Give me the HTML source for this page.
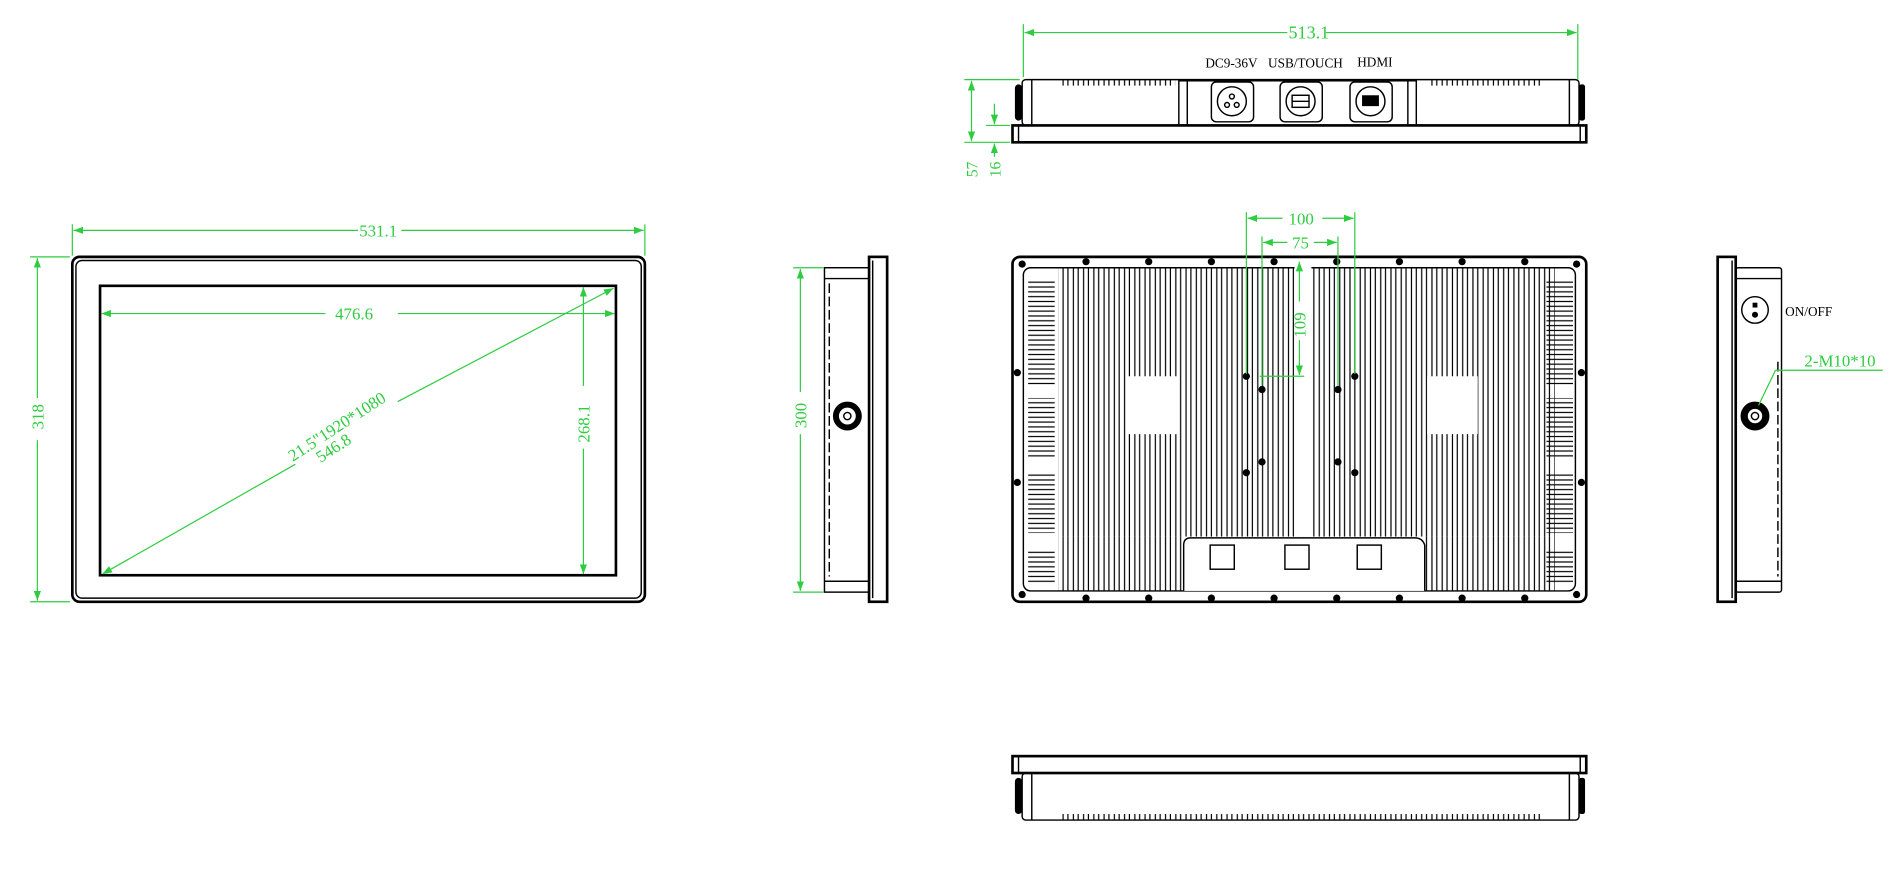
<!DOCTYPE html>
<html><head><meta charset="utf-8"><style>
html,body{margin:0;padding:0;background:#fff;width:1890px;height:890px;overflow:hidden}
svg{display:block}
text{font-family:"Liberation Serif",serif}
.g{fill:#2ecc40}
.gl{stroke:#2ecc40;stroke-width:1;fill:none}
.k{stroke:#000;fill:none;stroke-width:1.2}
.kt{stroke:#000;fill:none;stroke-width:2.2}
</style></head><body>
<svg width="1890" height="890" viewBox="0 0 1568 738" preserveAspectRatio="none" xmlns="http://www.w3.org/2000/svg">
<defs>
<marker id="a" markerWidth="8" markerHeight="6" refX="8" refY="3" orient="auto-start-reverse" markerUnits="userSpaceOnUse"><path d="M0,0 L8,3 L0,6z" fill="#2ecc40"/></marker>
<pattern id="fin" x="880" y="0" width="8.5" height="10" patternUnits="userSpaceOnUse"><line x1="2" y1="0" x2="2" y2="10" stroke="#000" stroke-width="1"/><line x1="6" y1="0" x2="6" y2="10" stroke="#000" stroke-width="1"/></pattern>
<pattern id="hfin" x="0" y="0" width="10" height="8" patternUnits="userSpaceOnUse"><line x1="0" y1="2" x2="10" y2="2" stroke="#000" stroke-width="1"/><line x1="0" y1="6" x2="10" y2="6" stroke="#000" stroke-width="1"/></pattern>
</defs>

<!-- FRONT VIEW -->
<rect x="60" y="213" width="475" height="286" rx="6" class="kt"/>
<rect x="63" y="216" width="469" height="280" rx="5" class="k" stroke-width="0.8"/>
<rect x="83" y="237" width="428" height="240" class="kt" stroke-width="1.6"/>
<g class="gl">
<line x1="60" y1="186" x2="60" y2="212"/><line x1="535" y1="186" x2="535" y2="212"/>
<line x1="61" y1="191" x2="297" y2="191" marker-start="url(#a)"/><line x1="333" y1="191" x2="534" y2="191" marker-end="url(#a)"/>
<line x1="25" y1="213" x2="58" y2="213"/><line x1="25" y1="499" x2="58" y2="499"/>
<line x1="31" y1="214" x2="31" y2="330" marker-start="url(#a)"/><line x1="31" y1="365" x2="31" y2="498" marker-end="url(#a)"/>
<line x1="84" y1="260" x2="270" y2="260" marker-start="url(#a)"/><line x1="330" y1="260" x2="510" y2="260" marker-end="url(#a)"/>
<line x1="484" y1="238" x2="484" y2="320" marker-start="url(#a)"/><line x1="484" y1="372" x2="484" y2="476" marker-end="url(#a)"/>
<line x1="85" y1="476" x2="245" y2="385" marker-start="url(#a)"/><line x1="330" y1="333" x2="509" y2="239" marker-end="url(#a)"/>
</g>
<text x="298" y="196" class="g" font-size="14">531.1</text>
<text x="278" y="265" class="g" font-size="14">476.6</text>
<text transform="translate(36,356) rotate(-90)" class="g" font-size="14">318</text>
<text transform="translate(489,367) rotate(-90)" class="g" font-size="14">268.1</text>
<text transform="translate(243,383) rotate(-33)" class="g" font-size="14">21.5"1920*1080</text>
<text transform="translate(266,384) rotate(-33)" class="g" font-size="14">546.8</text>

<!-- LEFT SIDE VIEW -->
<rect x="721" y="213" width="15" height="286" class="kt" stroke-width="1.6"/>
<line x1="724" y1="216" x2="724" y2="496" class="k"/>
<rect x="684" y="222" width="37" height="269" class="k" stroke-width="1.5"/>
<line x1="684" y1="231" x2="721" y2="231" class="k"/><line x1="684" y1="482" x2="721" y2="482" class="k"/>
<line x1="688" y1="235" x2="688" y2="478" class="k" stroke-dasharray="8,3"/>
<circle cx="703" cy="345" r="12" fill="#000"/><circle cx="703" cy="345" r="7" fill="#fff"/><circle cx="703" cy="345" r="3" class="k"/>
<g class="gl">
<line x1="658" y1="222" x2="683" y2="222"/><line x1="658" y1="491" x2="683" y2="491"/>
<line x1="664" y1="223" x2="664" y2="325" marker-start="url(#a)"/><line x1="664" y1="360" x2="664" y2="490" marker-end="url(#a)"/>
</g>
<text transform="translate(669,355) rotate(-90)" class="g" font-size="14">300</text>

<!-- TOP VIEW -->
<rect x="848" y="66" width="462" height="38" rx="3" class="k" stroke-width="1.5"/>
<rect x="840" y="104" width="476" height="14" class="kt" stroke-width="1.6"/>
<line x1="845" y1="104" x2="845" y2="118" class="k"/><line x1="1311" y1="104" x2="1311" y2="118" class="k"/>
<rect x="842" y="70" width="6" height="30" rx="3" fill="#000"/><rect x="1310" y="70" width="5" height="30" rx="2" fill="#000"/>
<line x1="856" y1="66" x2="856" y2="104" class="k"/><line x1="1302" y1="66" x2="1302" y2="104" class="k"/>
<rect x="880" y="66" width="95" height="5" fill="url(#fin)"/><rect x="1185" y="66" width="95" height="5" fill="url(#fin)"/>
<rect x="978" y="67" width="197" height="37" class="k"/>
<line x1="985" y1="67" x2="985" y2="104" class="k"/><line x1="1168" y1="67" x2="1168" y2="104" class="k"/>
<g class="k" stroke-width="1.6">
<rect x="1005" y="68" width="35" height="33" rx="4"/><circle cx="1022" cy="84" r="12"/>
<rect x="1062" y="68" width="35" height="33" rx="4"/><circle cx="1079" cy="84" r="12"/>
<rect x="1120" y="68" width="35" height="33" rx="4"/><circle cx="1137" cy="84" r="12"/>
</g>
<circle cx="1022" cy="80" r="2" class="k"/><circle cx="1018" cy="87" r="2" class="k"/><circle cx="1026" cy="87" r="2" class="k"/>
<rect x="1072" y="79" width="14" height="10" class="k"/><line x1="1072" y1="84" x2="1086" y2="84" class="k"/>
<rect x="1130" y="79" width="14" height="9" fill="#000"/>
<text x="1000" y="56" font-size="11">DC9-36V</text>
<text x="1052" y="56" font-size="11">USB/TOUCH</text>
<text x="1126" y="55" font-size="11">HDMI</text>
<g class="gl">
<line x1="849" y1="20" x2="849" y2="64"/><line x1="1309" y1="20" x2="1309" y2="66"/>
<line x1="850" y1="27" x2="1068" y2="27" marker-start="url(#a)"/><line x1="1100" y1="27" x2="1308" y2="27" marker-end="url(#a)"/>
<line x1="800" y1="66" x2="846" y2="66"/><line x1="800" y1="118" x2="838" y2="118"/><line x1="818" y1="104" x2="838" y2="104"/>
<line x1="806" y1="67" x2="806" y2="117" marker-start="url(#a)" marker-end="url(#a)"/>
<line x1="825" y1="86" x2="825" y2="103" marker-end="url(#a)"/><line x1="825" y1="130" x2="825" y2="119" marker-end="url(#a)"/>
</g>
<text x="1069" y="32" class="g" font-size="15">513.1</text>
<text transform="translate(811,147) rotate(-90)" class="g" font-size="13">57</text>
<text transform="translate(830,147) rotate(-90)" class="g" font-size="13">16</text>

<!-- BACK VIEW -->
<rect x="840" y="213" width="476" height="286" rx="6" class="kt"/>
<rect x="849" y="222" width="458" height="268" rx="6" class="k"/>
<rect x="878" y="222" width="412" height="223" fill="url(#fin)"/>
<rect x="878" y="445" width="104" height="45" fill="url(#fin)"/>
<rect x="1182" y="445" width="108" height="45" fill="url(#fin)"/>
<rect x="936" y="312" width="42" height="48" fill="#fff"/>
<rect x="1184" y="312" width="42" height="48" fill="#fff"/>
<rect x="1074" y="216" width="14" height="229" fill="#fff"/>
<rect x="982" y="445" width="200" height="45" fill="#fff"/>
<path d="M982,490 V452 Q982,446 988,446 H1174 Q1180,446 1182,452 V490" class="k" stroke-width="1.5"/>
<rect x="1004" y="452" width="20" height="20" class="k"/><rect x="1066" y="452" width="20" height="20" class="k"/><rect x="1126" y="452" width="20" height="20" class="k"/>
<rect x="853" y="232" width="22" height="88" fill="url(#hfin)"/><rect x="853" y="330" width="22" height="50" fill="url(#hfin)"/>
<rect x="853" y="392" width="22" height="50" fill="url(#hfin)"/><rect x="853" y="455" width="22" height="30" fill="url(#hfin)"/>
<rect x="1283" y="232" width="22" height="88" fill="url(#hfin)"/><rect x="1283" y="330" width="22" height="50" fill="url(#hfin)"/>
<rect x="1283" y="392" width="22" height="50" fill="url(#hfin)"/><rect x="1283" y="455" width="22" height="30" fill="url(#hfin)"/>
<g fill="#000">
<circle cx="848" cy="219" r="3"/><circle cx="1308" cy="219" r="3"/><circle cx="848" cy="493" r="3"/><circle cx="1308" cy="493" r="3"/>
<circle cx="901" cy="217" r="3"/><circle cx="953" cy="217" r="3"/><circle cx="1005" cy="217" r="3"/><circle cx="1057" cy="217" r="3"/><circle cx="1109" cy="217" r="3"/><circle cx="1161" cy="217" r="3"/><circle cx="1213" cy="217" r="3"/><circle cx="1265" cy="217" r="3"/>
<circle cx="901" cy="496" r="3"/><circle cx="953" cy="496" r="3"/><circle cx="1005" cy="496" r="3"/><circle cx="1057" cy="496" r="3"/><circle cx="1109" cy="496" r="3"/><circle cx="1161" cy="496" r="3"/><circle cx="1213" cy="496" r="3"/><circle cx="1265" cy="496" r="3"/>
<circle cx="844" cy="309" r="3"/><circle cx="844" cy="400" r="3"/><circle cx="1312" cy="309" r="3"/><circle cx="1312" cy="400" r="3"/>
<circle cx="1034" cy="312" r="3"/><circle cx="1124" cy="312" r="3"/><circle cx="1047" cy="323" r="3"/><circle cx="1110" cy="323" r="3"/>
<circle cx="1034" cy="392" r="3"/><circle cx="1124" cy="392" r="3"/><circle cx="1047" cy="383" r="3"/><circle cx="1110" cy="383" r="3"/>
</g>
<g class="gl">
<line x1="1034" y1="176" x2="1034" y2="310"/><line x1="1124" y1="176" x2="1124" y2="310"/>
<line x1="1047" y1="196" x2="1047" y2="320"/><line x1="1110" y1="196" x2="1110" y2="320"/>
<line x1="1035" y1="181" x2="1064" y2="181" marker-start="url(#a)"/><line x1="1097" y1="181" x2="1123" y2="181" marker-end="url(#a)"/>
<line x1="1048" y1="201" x2="1068" y2="201" marker-start="url(#a)"/><line x1="1090" y1="201" x2="1109" y2="201" marker-end="url(#a)"/>
<line x1="1078" y1="217" x2="1078" y2="250" marker-start="url(#a)"/><line x1="1078" y1="282" x2="1078" y2="311" marker-end="url(#a)"/>
<line x1="1045" y1="312" x2="1082" y2="312"/>
</g>
<text x="1069" y="186" class="g" font-size="14">100</text>
<text x="1072" y="206" class="g" font-size="14">75</text>
<text transform="translate(1083,280) rotate(-90)" class="g" font-size="14">109</text>

<!-- RIGHT SIDE VIEW -->
<rect x="1425" y="213" width="15" height="286" class="kt" stroke-width="1.6"/>
<line x1="1437" y1="216" x2="1437" y2="496" class="k"/>
<rect x="1440" y="222" width="38" height="269" rx="2" class="k" stroke-width="1.5"/>
<line x1="1440" y1="231" x2="1478" y2="231" class="k"/><line x1="1440" y1="482" x2="1478" y2="482" class="k"/>
<line x1="1475" y1="300" x2="1475" y2="478" class="k" stroke-dasharray="8,3"/>
<circle cx="1456" cy="257" r="11" class="k" stroke-width="3"/>
<rect x="1454" y="251" width="4" height="4" fill="#000"/><circle cx="1456" cy="261" r="2.5" fill="#000"/>
<text x="1481" y="262" font-size="11">ON/OFF</text>
<circle cx="1456" cy="345" r="12" fill="#000"/><circle cx="1456" cy="345" r="6" fill="#fff"/><circle cx="1456" cy="345" r="3" class="k"/>
<g class="gl"><line x1="1459" y1="336" x2="1473" y2="307"/><line x1="1473" y1="307" x2="1562" y2="307"/></g>
<text x="1497" y="304" class="g" font-size="14">2-M10*10</text>

<!-- BOTTOM VIEW -->
<rect x="840" y="627" width="476" height="14" class="kt" stroke-width="1.6"/>
<line x1="845" y1="627" x2="845" y2="641" class="k"/><line x1="1311" y1="627" x2="1311" y2="641" class="k"/>
<rect x="848" y="641" width="462" height="39" rx="3" class="k" stroke-width="1.5"/>
<line x1="856" y1="641" x2="856" y2="680" class="k"/><line x1="1302" y1="641" x2="1302" y2="680" class="k"/>
<rect x="842" y="645" width="6" height="30" rx="3" fill="#000"/><rect x="1310" y="645" width="5" height="30" rx="2" fill="#000"/>
<rect x="880" y="675" width="400" height="5" fill="url(#fin)"/>
</svg>
</body></html>
